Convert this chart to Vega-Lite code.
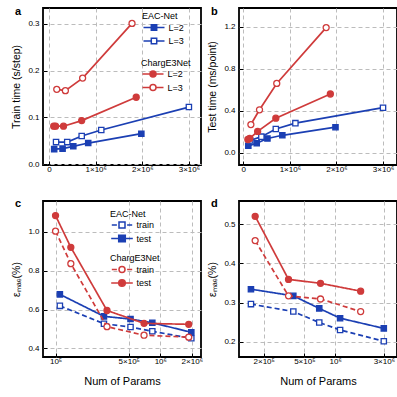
{
  "$schema": "https://vega.github.io/schema/vega-lite/v6.json",
  "autosize": {"type": "pad"},
  "padding": {"left": 10, "top": 4, "right": 0, "bottom": 0},
  "background": "white",
  "config": {
    "font": "Liberation Sans",
    "view": {"stroke": "black", "strokeWidth": 1.8},
    "axis": {
      "domain": false, "grid": true, "gridDash": [4, 3], "gridColor": "#bcbcbc", "gridWidth": 1, "gridOpacity": 1,
      "tickColor": "black", "tickSize": -4, "tickWidth": 1,
      "labelFont": "Liberation Sans", "labelFontSize": 8, "labelColor": "black", "labelPadding": 8,
      "titleFont": "Liberation Sans", "titleFontWeight": "normal", "titleFontSize": 10.5, "titleColor": "black", "titlePadding": 6
    },
    "axisX": {"titleFontSize": 11, "titlePadding": 9.5, "labelPadding": 4.5},
    "legend": {
      "orient": "none", "titleFont": "Liberation Sans", "titleFontSize": 9, "titleFontWeight": "normal", "titleColor": "black",
      "labelFont": "Liberation Sans", "labelFontSize": 9, "labelColor": "black",
      "symbolSize": 36, "symbolOffset": 7.5, "labelOffset": 10, "rowPadding": 0.5, "titlePadding": 2, "padding": 0,
      "symbolStrokeWidth": 1.5, "symbolOpacity": 1
    },
    "title": {"anchor": "start", "frame": "group", "baseline": "alphabetic", "fontSize": 11, "fontWeight": "bold", "color": "black", "font": "Liberation Sans"}
  },
  "datasets": {
    "d": [
      {"p": "a", "m": "EAC-Net", "s": "L=2", "x": 110000, "y": 0.032},
      {"p": "a", "m": "EAC-Net", "s": "L=2", "x": 290000, "y": 0.033},
      {"p": "a", "m": "EAC-Net", "s": "L=2", "x": 520000, "y": 0.038},
      {"p": "a", "m": "EAC-Net", "s": "L=2", "x": 840000, "y": 0.045},
      {"p": "a", "m": "EAC-Net", "s": "L=2", "x": 1980000, "y": 0.065},
      {"p": "a", "m": "EAC-Net", "s": "L=3", "x": 150000, "y": 0.047},
      {"p": "a", "m": "EAC-Net", "s": "L=3", "x": 390000, "y": 0.047},
      {"p": "a", "m": "EAC-Net", "s": "L=3", "x": 700000, "y": 0.060},
      {"p": "a", "m": "EAC-Net", "s": "L=3", "x": 1120000, "y": 0.073},
      {"p": "a", "m": "EAC-Net", "s": "L=3", "x": 3000000, "y": 0.122},
      {"p": "a", "m": "ChargE3Net", "s": "L=2", "x": 100000, "y": 0.081},
      {"p": "a", "m": "ChargE3Net", "s": "L=2", "x": 140000, "y": 0.081},
      {"p": "a", "m": "ChargE3Net", "s": "L=2", "x": 310000, "y": 0.081},
      {"p": "a", "m": "ChargE3Net", "s": "L=2", "x": 700000, "y": 0.093},
      {"p": "a", "m": "ChargE3Net", "s": "L=2", "x": 1870000, "y": 0.143},
      {"p": "a", "m": "ChargE3Net", "s": "L=3", "x": 165000, "y": 0.160},
      {"p": "a", "m": "ChargE3Net", "s": "L=3", "x": 350000, "y": 0.157},
      {"p": "a", "m": "ChargE3Net", "s": "L=3", "x": 720000, "y": 0.184},
      {"p": "a", "m": "ChargE3Net", "s": "L=3", "x": 1780000, "y": 0.301},

      {"p": "b", "m": "EAC-Net", "s": "L=2", "x": 110000, "y": 0.068},
      {"p": "b", "m": "EAC-Net", "s": "L=2", "x": 290000, "y": 0.092},
      {"p": "b", "m": "EAC-Net", "s": "L=2", "x": 520000, "y": 0.138},
      {"p": "b", "m": "EAC-Net", "s": "L=2", "x": 840000, "y": 0.168},
      {"p": "b", "m": "EAC-Net", "s": "L=2", "x": 1980000, "y": 0.245},
      {"p": "b", "m": "EAC-Net", "s": "L=3", "x": 150000, "y": 0.118},
      {"p": "b", "m": "EAC-Net", "s": "L=3", "x": 390000, "y": 0.155},
      {"p": "b", "m": "EAC-Net", "s": "L=3", "x": 700000, "y": 0.228},
      {"p": "b", "m": "EAC-Net", "s": "L=3", "x": 1120000, "y": 0.283},
      {"p": "b", "m": "EAC-Net", "s": "L=3", "x": 3000000, "y": 0.430},
      {"p": "b", "m": "ChargE3Net", "s": "L=2", "x": 100000, "y": 0.128},
      {"p": "b", "m": "ChargE3Net", "s": "L=2", "x": 140000, "y": 0.138},
      {"p": "b", "m": "ChargE3Net", "s": "L=2", "x": 310000, "y": 0.205},
      {"p": "b", "m": "ChargE3Net", "s": "L=2", "x": 700000, "y": 0.330},
      {"p": "b", "m": "ChargE3Net", "s": "L=2", "x": 1870000, "y": 0.560},
      {"p": "b", "m": "ChargE3Net", "s": "L=3", "x": 165000, "y": 0.270},
      {"p": "b", "m": "ChargE3Net", "s": "L=3", "x": 350000, "y": 0.410},
      {"p": "b", "m": "ChargE3Net", "s": "L=3", "x": 720000, "y": 0.660},
      {"p": "b", "m": "ChargE3Net", "s": "L=3", "x": 1780000, "y": 1.190},

      {"p": "c", "m": "EAC-Net", "s": "train", "x": 110000, "y": 0.619},
      {"p": "c", "m": "EAC-Net", "s": "train", "x": 290000, "y": 0.527},
      {"p": "c", "m": "EAC-Net", "s": "train", "x": 520000, "y": 0.510},
      {"p": "c", "m": "EAC-Net", "s": "train", "x": 840000, "y": 0.488},
      {"p": "c", "m": "EAC-Net", "s": "train", "x": 1980000, "y": 0.452},
      {"p": "c", "m": "EAC-Net", "s": "test", "x": 110000, "y": 0.678},
      {"p": "c", "m": "EAC-Net", "s": "test", "x": 290000, "y": 0.565},
      {"p": "c", "m": "EAC-Net", "s": "test", "x": 520000, "y": 0.551},
      {"p": "c", "m": "EAC-Net", "s": "test", "x": 840000, "y": 0.532},
      {"p": "c", "m": "EAC-Net", "s": "test", "x": 1980000, "y": 0.483},
      {"p": "c", "m": "ChargE3Net", "s": "train", "x": 100000, "y": 1.003},
      {"p": "c", "m": "ChargE3Net", "s": "train", "x": 140000, "y": 0.836},
      {"p": "c", "m": "ChargE3Net", "s": "train", "x": 310000, "y": 0.512},
      {"p": "c", "m": "ChargE3Net", "s": "train", "x": 700000, "y": 0.468},
      {"p": "c", "m": "ChargE3Net", "s": "train", "x": 1870000, "y": 0.458},
      {"p": "c", "m": "ChargE3Net", "s": "test", "x": 100000, "y": 1.083},
      {"p": "c", "m": "ChargE3Net", "s": "test", "x": 140000, "y": 0.920},
      {"p": "c", "m": "ChargE3Net", "s": "test", "x": 310000, "y": 0.595},
      {"p": "c", "m": "ChargE3Net", "s": "test", "x": 700000, "y": 0.529},
      {"p": "c", "m": "ChargE3Net", "s": "test", "x": 1870000, "y": 0.524},

      {"p": "d", "m": "EAC-Net", "s": "train", "x": 150000, "y": 0.296},
      {"p": "d", "m": "EAC-Net", "s": "train", "x": 390000, "y": 0.277},
      {"p": "d", "m": "EAC-Net", "s": "train", "x": 700000, "y": 0.249},
      {"p": "d", "m": "EAC-Net", "s": "train", "x": 1120000, "y": 0.230},
      {"p": "d", "m": "EAC-Net", "s": "train", "x": 3000000, "y": 0.201},
      {"p": "d", "m": "EAC-Net", "s": "test", "x": 150000, "y": 0.334},
      {"p": "d", "m": "EAC-Net", "s": "test", "x": 390000, "y": 0.317},
      {"p": "d", "m": "EAC-Net", "s": "test", "x": 700000, "y": 0.285},
      {"p": "d", "m": "EAC-Net", "s": "test", "x": 1120000, "y": 0.260},
      {"p": "d", "m": "EAC-Net", "s": "test", "x": 3000000, "y": 0.234},
      {"p": "d", "m": "ChargE3Net", "s": "train", "x": 165000, "y": 0.458},
      {"p": "d", "m": "ChargE3Net", "s": "train", "x": 350000, "y": 0.317},
      {"p": "d", "m": "ChargE3Net", "s": "train", "x": 720000, "y": 0.309},
      {"p": "d", "m": "ChargE3Net", "s": "train", "x": 1780000, "y": 0.277},
      {"p": "d", "m": "ChargE3Net", "s": "test", "x": 165000, "y": 0.520},
      {"p": "d", "m": "ChargE3Net", "s": "test", "x": 350000, "y": 0.359},
      {"p": "d", "m": "ChargE3Net", "s": "test", "x": 720000, "y": 0.349},
      {"p": "d", "m": "ChargE3Net", "s": "test", "x": 1780000, "y": 0.329}
    ]
  },
  "data": {"name": "d"},
  "columns": 2,
  "bounds": "flush",
  "spacing": {"row": 36, "column": 38},
  "concat": [
    {
      "width": 158, "height": 157,
      "title": {"text": "a", "dx": -28, "offset": -8.6},
      "encoding": {
        "x": {"field": "x", "type": "quantitative", "scale": {"domain": [-130000, 3260000], "nice": false, "zero": false},
              "axis": {"grid": true, "values": [0, 1000000, 2000000, 3000000], "labelExpr": "datum.value === 0 ? '0' : format(datum.value/1000000, 'd') + '×10⁶'", "title": null}},
        "y": {"field": "y", "type": "quantitative", "scale": {"domain": [-0.002, 0.334], "nice": false, "zero": false},
              "axis": {"grid": true, "values": [0, 0.1, 0.2, 0.3], "format": ".1f", "title": "Train time (s/step)"}}
      },
      "layer": [
        {"transform": [{"filter": "datum.p === 'a' && datum.m === 'EAC-Net'"}],
         "layer": [
           {"mark": {"type": "line", "color": "#1b3fb3", "strokeWidth": 1.7}, "encoding": {"detail": {"field": "s"}}},
           {"mark": {"type": "point", "shape": "square", "filled": true, "stroke": "#1b3fb3", "strokeWidth": 1.3, "size": 28, "opacity": 1},
            "encoding": {"fill": {"condition": {"test": "datum.s === 'L=3'", "value": "white"}, "value": "#1b3fb3"}}},
           {"mark": {"type": "point", "filled": true, "strokeWidth": 1.5, "size": 36, "opacity": 0},
            "encoding": {
              "fill": {"field": "s", "type": "nominal", "scale": {"domain": ["L=2", "L=3"], "range": ["#1b3fb3", "white"]},
                       "legend": {"title": "EAC-Net", "legendX": 99, "legendY": 4}},
              "stroke": {"field": "s", "type": "nominal", "scale": {"domain": ["L=2", "L=3"], "range": ["#1b3fb3", "#1b3fb3"]},
                       "legend": {"title": "EAC-Net", "legendX": 99, "legendY": 4}},
              "shape": {"field": "s", "type": "nominal", "scale": {"domain": ["L=2", "L=3"], "range": ["M-3.5,0H-0.9M0.9,0H3.5M-0.9,-0.9H0.9V0.9H-0.9Z", "M-3.5,0H-0.9M0.9,0H3.5M-0.9,-0.9H0.9V0.9H-0.9Z"]},
                       "legend": {"title": "EAC-Net", "legendX": 99, "legendY": 4}}
            }}
         ]},
        {"transform": [{"filter": "datum.p === 'a' && datum.m === 'ChargE3Net'"}],
         "layer": [
           {"mark": {"type": "line", "color": "#cf3b3b", "strokeWidth": 1.7}, "encoding": {"detail": {"field": "s"}}},
           {"mark": {"type": "point", "shape": "circle", "filled": true, "stroke": "#cf3b3b", "strokeWidth": 1.3, "size": 36, "opacity": 1},
            "encoding": {"fill": {"condition": {"test": "datum.s === 'L=3'", "value": "white"}, "value": "#cf3b3b"}}},
           {"mark": {"type": "point", "filled": true, "strokeWidth": 1.5, "size": 36, "opacity": 0},
            "encoding": {
              "fill": {"field": "s", "type": "nominal", "scale": {"domain": ["L=2", "L=3"], "range": ["#cf3b3b", "white"]},
                       "legend": {"title": "ChargE3Net", "legendX": 98, "legendY": 50.5}},
              "stroke": {"field": "s", "type": "nominal", "scale": {"domain": ["L=2", "L=3"], "range": ["#cf3b3b", "#cf3b3b"]},
                       "legend": {"title": "ChargE3Net", "legendX": 98, "legendY": 50.5}},
              "shape": {"field": "s", "type": "nominal", "scale": {"domain": ["L=2", "L=3"], "range": ["M-3.5,0H-1M1,0H3.5M-1,0A1,1 0 1,0 1,0A1,1 0 1,0 -1,0Z", "M-3.5,0H-1M1,0H3.5M-1,0A1,1 0 1,0 1,0A1,1 0 1,0 -1,0Z"]},
                       "legend": {"title": "ChargE3Net", "legendX": 98, "legendY": 50.5}}
            }}
         ]}
      ],
      "resolve": {"scale": {"fill": "independent", "shape": "independent", "stroke": "independent"}}
    },
    {
      "width": 158, "height": 157,
      "title": {"text": "b", "dx": -28, "offset": -8.6},
      "encoding": {
        "x": {"field": "x", "type": "quantitative", "scale": {"domain": [-90000, 3300000], "nice": false, "zero": false},
              "axis": {"grid": true, "values": [0, 1000000, 2000000, 3000000], "labelExpr": "datum.value === 0 ? '0' : format(datum.value/1000000, 'd') + '×10⁶'", "title": null}},
        "y": {"field": "y", "type": "quantitative", "scale": {"domain": [-0.114, 1.376], "nice": false, "zero": false},
              "axis": {"grid": true, "values": [0, 0.4, 0.8, 1.2], "format": ".1f", "title": "Test time (ms/point)"}}
      },
      "layer": [
        {"transform": [{"filter": "datum.p === 'b' && datum.m === 'EAC-Net'"}],
         "layer": [
           {"mark": {"type": "line", "color": "#1b3fb3", "strokeWidth": 1.7}, "encoding": {"detail": {"field": "s"}}},
           {"mark": {"type": "point", "shape": "square", "filled": true, "stroke": "#1b3fb3", "strokeWidth": 1.3, "size": 28, "opacity": 1},
            "encoding": {"fill": {"condition": {"test": "datum.s === 'L=3'", "value": "white"}, "value": "#1b3fb3"}}}
         ]},
        {"transform": [{"filter": "datum.p === 'b' && datum.m === 'ChargE3Net'"}],
         "layer": [
           {"mark": {"type": "line", "color": "#cf3b3b", "strokeWidth": 1.7}, "encoding": {"detail": {"field": "s"}}},
           {"mark": {"type": "point", "shape": "circle", "filled": true, "stroke": "#cf3b3b", "strokeWidth": 1.3, "size": 36, "opacity": 1},
            "encoding": {"fill": {"condition": {"test": "datum.s === 'L=3'", "value": "white"}, "value": "#cf3b3b"}}}
         ]}
      ]
    },
    {
      "width": 158, "height": 156,
      "title": {"text": "c", "dx": -28, "offset": -7.5},
      "encoding": {
        "x": {"field": "x", "type": "quantitative", "scale": {"type": "log", "domain": [75900, 2450000], "nice": false},
              "axis": {"grid": true, "values": [100000, 500000, 1000000, 2000000], "labelExpr": "datum.value === 100000 ? '10⁵' : datum.value === 500000 ? '5×10⁵' : datum.value === 1000000 ? '10⁶' : '2×10⁶'", "title": "Num of Params"}},
        "y": {"field": "y", "type": "quantitative", "scale": {"domain": [0.356, 1.158], "nice": false, "zero": false},
              "axis": {"grid": true, "values": [0.4, 0.6, 0.8, 1.0], "format": ".1f", "title": "εₘₐₑ(%)"}}
      },
      "layer": [
        {"transform": [{"filter": "datum.p === 'c' && datum.m === 'EAC-Net'"}],
         "layer": [
           {"mark": {"type": "line", "color": "#1b3fb3", "strokeWidth": 1.7},
            "encoding": {"strokeDash": {"field": "s", "type": "nominal", "scale": {"domain": ["train", "test"], "range": [[5, 3], [1, 0]]}, "legend": null}}},
           {"mark": {"type": "point", "shape": "square", "filled": true, "stroke": "#1b3fb3", "strokeWidth": 1.3, "size": 28, "opacity": 1},
            "encoding": {"fill": {"condition": {"test": "datum.s === 'train'", "value": "white"}, "value": "#1b3fb3"}}},
           {"mark": {"type": "point", "filled": true, "strokeWidth": 1.5, "size": 36, "opacity": 0},
            "encoding": {
              "fill": {"field": "s", "type": "nominal", "scale": {"domain": ["train", "test"], "range": ["white", "#1b3fb3"]},
                       "legend": {"title": "EAC-Net", "legendX": 67, "legendY": 8.5}},
              "stroke": {"field": "s", "type": "nominal", "scale": {"domain": ["train", "test"], "range": ["#1b3fb3", "#1b3fb3"]},
                       "legend": {"title": "EAC-Net", "legendX": 67, "legendY": 8.5}},
              "shape": {"field": "s", "type": "nominal", "scale": {"domain": ["train", "test"], "range": ["M-3.4,0H-1.7M1.7,0H3.4M-1,-1H1V1H-1Z", "M-3.6,0H3.6M-1.1,-1.1H1.1V1.1H-1.1Z"]},
                       "legend": {"title": "EAC-Net", "legendX": 67, "legendY": 8.5}}
            }}
         ]},
        {"transform": [{"filter": "datum.p === 'c' && datum.m === 'ChargE3Net'"}],
         "layer": [
           {"mark": {"type": "line", "color": "#cf3b3b", "strokeWidth": 1.7},
            "encoding": {"strokeDash": {"field": "s", "type": "nominal", "scale": {"domain": ["train", "test"], "range": [[5, 3], [1, 0]]}, "legend": null}}},
           {"mark": {"type": "point", "shape": "circle", "filled": true, "stroke": "#cf3b3b", "strokeWidth": 1.3, "size": 36, "opacity": 1},
            "encoding": {"fill": {"condition": {"test": "datum.s === 'train'", "value": "white"}, "value": "#cf3b3b"}}},
           {"mark": {"type": "point", "filled": true, "strokeWidth": 1.5, "size": 36, "opacity": 0},
            "encoding": {
              "fill": {"field": "s", "type": "nominal", "scale": {"domain": ["train", "test"], "range": ["white", "#cf3b3b"]},
                       "legend": {"title": "ChargE3Net", "legendX": 67, "legendY": 53}},
              "stroke": {"field": "s", "type": "nominal", "scale": {"domain": ["train", "test"], "range": ["#cf3b3b", "#cf3b3b"]},
                       "legend": {"title": "ChargE3Net", "legendX": 67, "legendY": 53}},
              "shape": {"field": "s", "type": "nominal", "scale": {"domain": ["train", "test"], "range": ["M-3.4,0H-1.7M1.7,0H3.4M-1,0A1,1 0 1,0 1,0A1,1 0 1,0 -1,0Z", "M-3.6,0H3.6M-1.1,0A1.1,1.1 0 1,0 1.1,0A1.1,1.1 0 1,0 -1.1,0Z"]},
                       "legend": {"title": "ChargE3Net", "legendX": 67, "legendY": 53}}
            }}
         ]},
        {"data": {"values": [{"t": "L=2"}]},
         "mark": {"type": "text", "align": "right", "baseline": "top", "dx": -4, "dy": 6, "fontSize": 10, "fontWeight": "bold", "font": "Liberation Sans", "color": "black"},
         "encoding": {"x": {"datum": 2450000}, "y": {"datum": 1.158}, "text": {"field": "t"}}}
      ],
      "resolve": {"scale": {"fill": "independent", "shape": "independent", "stroke": "independent"}}
    },
    {
      "width": 158, "height": 156,
      "title": {"text": "d", "dx": -28, "offset": -7.5},
      "encoding": {
        "x": {"field": "x", "type": "quantitative", "scale": {"type": "log", "domain": [114600, 4040000], "nice": false},
              "axis": {"grid": true, "values": [200000, 500000, 1000000, 3000000], "labelExpr": "datum.value === 200000 ? '2×10⁵' : datum.value === 500000 ? '5×10⁵' : datum.value === 1000000 ? '10⁶' : '3×10⁶'", "title": "Num of Params"}},
        "y": {"field": "y", "type": "quantitative", "scale": {"domain": [0.161, 0.559], "nice": false, "zero": false},
              "axis": {"grid": true, "values": [0.2, 0.3, 0.4, 0.5], "format": ".1f", "title": "εₘₐₑ(%)"}}
      },
      "layer": [
        {"transform": [{"filter": "datum.p === 'd' && datum.m === 'EAC-Net'"}],
         "layer": [
           {"mark": {"type": "line", "color": "#1b3fb3", "strokeWidth": 1.7},
            "encoding": {"strokeDash": {"field": "s", "type": "nominal", "scale": {"domain": ["train", "test"], "range": [[5, 3], [1, 0]]}, "legend": null}}},
           {"mark": {"type": "point", "shape": "square", "filled": true, "stroke": "#1b3fb3", "strokeWidth": 1.3, "size": 28, "opacity": 1},
            "encoding": {"fill": {"condition": {"test": "datum.s === 'train'", "value": "white"}, "value": "#1b3fb3"}}}
         ]},
        {"transform": [{"filter": "datum.p === 'd' && datum.m === 'ChargE3Net'"}],
         "layer": [
           {"mark": {"type": "line", "color": "#cf3b3b", "strokeWidth": 1.7},
            "encoding": {"strokeDash": {"field": "s", "type": "nominal", "scale": {"domain": ["train", "test"], "range": [[5, 3], [1, 0]]}, "legend": null}}},
           {"mark": {"type": "point", "shape": "circle", "filled": true, "stroke": "#cf3b3b", "strokeWidth": 1.3, "size": 36, "opacity": 1},
            "encoding": {"fill": {"condition": {"test": "datum.s === 'train'", "value": "white"}, "value": "#cf3b3b"}}}
         ]},
        {"data": {"values": [{"t": "L=3"}]},
         "mark": {"type": "text", "align": "right", "baseline": "top", "dx": -4, "dy": 6, "fontSize": 10, "fontWeight": "bold", "font": "Liberation Sans", "color": "black"},
         "encoding": {"x": {"datum": 4040000}, "y": {"datum": 0.559}, "text": {"field": "t"}}}
      ]
    }
  ]
}
